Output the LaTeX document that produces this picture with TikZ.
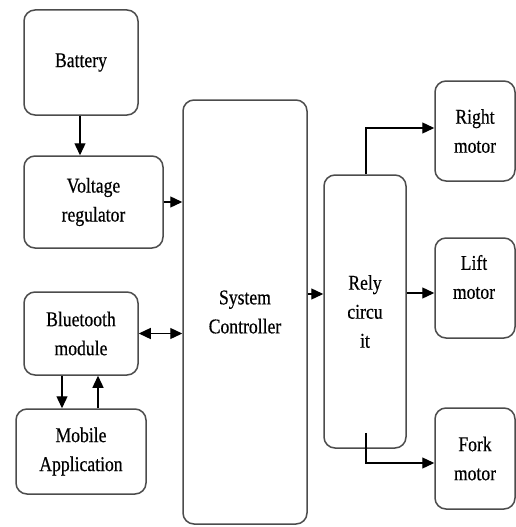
\documentclass[tikz,border=0pt]{standalone}
\usepackage{fontspec}
\setmainfont[FakeStretch=0.84,FakeBold=0.4]{Liberation Serif}
\usetikzlibrary{arrows.meta}
\begin{document}
\begin{tikzpicture}[x=1pt,y=-1pt,
  box/.style={draw=black!70,line width=1.5pt,rounded corners=11pt,inner sep=0pt,align=center,
    font=\fontsize{21}{29}\selectfont},
  arr/.style={line width=1.3pt,-{Triangle[length=12pt,width=11pt]}},
  darr/.style={line width=1.3pt,{Triangle[length=12pt,width=11pt]}-{Triangle[length=12pt,width=11pt]}},
  lbl/.style={inner sep=0pt,align=center,font=\fontsize{21}{29}\selectfont}]
\useasboundingbox[fill=white] (0,0) rectangle (516,527);
\node[box,minimum width=114pt,minimum height=105pt] (bat) at (81,62.5) {Battery};
\node[box,minimum width=139pt,minimum height=92pt] (vr) at (93.5,202) {Voltage\\regulator};
\node[box,minimum width=124pt,minimum height=424pt] (ctrl) at (245,312) {System\\Controller};
\node[box,minimum width=114pt,minimum height=83pt] (bt) at (81,333.5) {Bluetooth\\module};
\node[box,minimum width=130pt,minimum height=85pt] (mob) at (81,451.5) {Mobile\\Application};
\node[box,minimum width=82pt,minimum height=273pt] (rel) at (365,311.5) {Rely\\circu\\it};
\node[box,minimum width=80pt,minimum height=100pt] (rm) at (475,131) {Right\\motor};
\node[box,minimum width=80pt,minimum height=100pt] (lm) at (475,288) {};
\node[lbl] (lmt) at (474,277) {Lift\\motor};
\node[box,minimum width=80pt,minimum height=101pt] (fm) at (475,458.5) {Fork\\motor};
\draw[arr] ([xshift=-1pt]bat.south) -- ([xshift=-1pt]bat.south |- vr.north);
\draw[arr] (vr.east) -- (vr.east -| ctrl.west);
\draw[darr] (bt.east) -- (bt.east -| ctrl.west);
\draw[arr] ([xshift=-19pt]bt.south) -- ([xshift=-19pt]bt.south |- mob.north);
\draw[arr] ([xshift=17pt]mob.north) -- ([xshift=17pt]mob.north |- bt.south);
\draw[arr] ([yshift=18pt]ctrl.east) -- ([yshift=18pt]ctrl.east -| rel.west);
\draw[arr] ([yshift=18.5pt]rel.east) -- ([yshift=18.5pt]rel.east -| lm.west);
\draw[arr] ([xshift=1pt]rel.north) |- ([yshift=3pt]rm.west);
\coordinate (fs) at ([xshift=1pt,yshift=16pt]rel.south);
\draw[arr] (fs) |- ([yshift=-4.5pt]fm.west);
\end{tikzpicture}
\end{document}
